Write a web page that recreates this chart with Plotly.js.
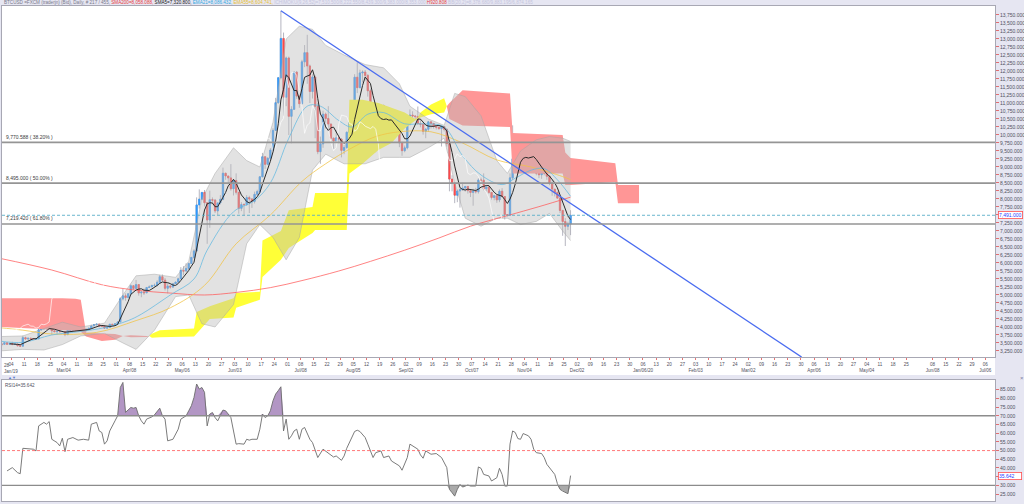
<!DOCTYPE html>
<html>
<head>
<meta charset="utf-8">
<script src="https://cdn.plot.ly/plotly-3.0.1.min.js"></script>
<style>
html,body{margin:0;padding:0;background:#e6e6f2;overflow:hidden;}
#chart{width:1024px;height:504px;}
</style>
</head>
<body>
<div id="chart"></div>
<script>
// ---------------- price data: weekday bars starting 2019-01-28 ----------------
const firstBar = '2019-01-28';
const firstOpen = 3530;
const closeP = [
 3464,3459,3508,3458,3487, 3459,3466,3414,3401,3667, 3625,3648,3631,3611,3630, 3910,3937,3984,3942,3983,
 3882,3854,3861,3854,3859, 3761,3896,3903,3911,3902, 3905,3909,3906,3924,3960, 4032,4071,4087,4029,4023,
 3963,3985,4087,4069,4098, 4158,4879,4973,4922,5036, 5289,5204,5325,5064,5089, 5067,5235,5251,5298,5303,
 5399,5572,5464,5210,5279, 5247,5350,5402,5505,5768, 5746,5829,5982,6175,6378, 7815,7995,8205,7884,7343,
 7978,7964,7627,7877,7990, 8805,8719,8659,8319,8575, 8208,7707,7824,7822,8043, 8000,7927,8145,8231,8693,
 9320,9082,9274,9527,10144, 11011,11790,13017,11182,12407, 10583,10801,11961,11215,10978, 12285,12573,12157,11358,11815,
 10896,9478,9723,10652,10516, 10343,9900,9811,9911,9871, 9519,9607,10085,10400,10519, 11805,11479,11941,11966,11862,
 11382,10895,10052,10311,10374, 10918,10764,10138,10131,10407, 10370,10185,9755,9510,9598, 10346,10623,10594,10575,10353,
 10334,10115,10178,10410,10360, 10276,10241,10199,10266,10181, 9729,8621,8486,8118,8251, 8294,8344,8393,8260,8205,
 8245,8228,8595,8586,8321, 8374,8205,8047,8103,7973, 8243,8078,7514,7493,8660, 9256,9427,9205,9199,9261,
 9413,9320,9360,9267,8804, 8757,8815,8808,8708,8491, 8309,8206,8027,7642,7296, 7146,7218,7491
];
const highP = [
 3570,3480,3520,3520,3500, 3540,3480,3470,3420,3730, 3700,3660,3670,3640,3660, 3960,4060,3990,4000,3990,
 4200,3890,3880,3900,3880, 3880,3910,3920,3930,3980, 3980,3920,3920,3960,3970, 4070,4080,4100,4100,4040,
 4050,3990,4090,4090,4110, 4170,4930,5190,5050,5060, 5330,5290,5470,5330,5110, 5200,5250,5300,5320,5360,
 5460,5630,5640,5530,5370, 5330,5380,5420,5540,5870, 5900,5990,6010,6180,6430, 8050,8300,8220,8280,7900,
 8260,8050,8000,7890,8120, 8980,8820,8700,9090,8590, 8800,8210,7900,7870,8120, 8100,8030,8230,8290,8710,
 9440,9340,9300,9590,10210, 11160,11800,13880,13200,12450, 12450,10900,11990,12000,11400, 12350,12810,13130,12200,11900,
 11860,11000,9950,10760,10700, 10900,10350,9920,10150,9930, 9900,9680,10110,10450,10650, 11900,12270,12040,12020,12030,
 11900,11450,10900,10470,10530, 10950,10950,10780,10230,10440, 10600,10380,10280,9790,9670, 10400,10800,10740,10620,10890,
 10480,10390,10220,10440,10420, 10380,10280,10270,10300,10280, 10190,9800,8740,8510,8300, 8330,8510,8400,8400,8270,
 8320,8350,8650,8670,8800, 8410,8410,8220,8130,8120, 8300,8340,8080,7520,8800, 10300,9530,9420,9350,9290,
 9550,9460,9440,9370,9270, 9100,8880,8850,8810,8750, 8600,8300,8230,8050,7660, 7400,7290,7650
];
const lowP = [
 3440,3400,3450,3440,3450, 3430,3440,3390,3390,3390, 3600,3590,3610,3590,3600, 3620,3890,3920,3920,3930,
 3750,3840,3760,3830,3850, 3710,3750,3860,3890,3870, 3860,3870,3890,3860,3920, 3960,4030,4050,3990,4010,
 3940,3950,3980,4050,4060, 4080,4150,4830,4820,4900, 5000,5160,5180,4980,4930, 5000,5060,5220,5250,5260,
 5270,5390,5420,5140,5050, 5200,5220,5340,5390,5500, 5620,5740,5780,5980,6130, 6350,7700,7960,7770,6600,
 7100,7830,7560,7500,7830, 7960,8600,8450,8260,8110, 8140,7540,7620,7480,7790, 7560,7720,7860,8100,8190,
 8680,8940,9070,9210,9520, 10140,10970,11740,10600,10900, 10000,9740,10790,11130,10850, 10950,12120,11600,11000,11140,
 9900,9400,9100,9600,10200, 10120,9860,9560,9800,9740, 9300,9400,9570,9890,10350, 10500,11310,11460,11640,11700,
 11200,10800,10000,9460,9900, 10060,10620,9940,9810,10090, 10000,10090,9620,9350,9460, 9550,10300,10450,10500,10330,
 10240,10010,9900,10100,10200, 10200,10170,10170,9640,10110, 9640,8240,8240,7870,7900, 7730,8250,8230,8170,8060,
 7790,8170,8170,8470,8270, 8240,8160,7980,7960,7880, 7900,8050,7360,7450,7480, 8600,9080,9060,8940,9070,
 9180,9210,9290,9150,8740, 8650,8630,8740,8600,8430, 8100,8080,8010,7560,6850, 6530,7030,6870
];

// ---------------- indicators ----------------
const sma200Dates = ['2019-01-28','2019-02-25','2019-03-22','2019-04-10','2019-04-29','2019-05-16','2019-06-03','2019-06-20','2019-07-08','2019-07-26','2019-08-13','2019-08-30','2019-09-18','2019-10-04','2019-10-24','2019-11-11','2019-11-27'];
const sma200Vals  = [6150,5780,5320,5150,5060,5000,5080,5230,5450,5750,6050,6400,6780,7150,7480,7760,8058];

const ema55Dates = ['2019-01-28','2019-02-08','2019-02-25','2019-03-20','2019-04-10','2019-04-29','2019-05-16','2019-06-03','2019-06-20','2019-07-08','2019-07-19','2019-08-02','2019-08-15','2019-08-28','2019-09-13','2019-10-01','2019-10-18','2019-11-06','2019-11-22','2019-11-27'];
const ema55Vals  = [3980,3900,3780,3830,4200,4600,5300,6600,7500,8550,9100,9600,9950,10100,10100,9750,9220,9000,8700,8605];

const ema21Dates = ['2019-01-28','2019-02-08','2019-02-25','2019-03-12','2019-03-25','2019-04-05','2019-04-12','2019-04-29','2019-05-10','2019-05-17','2019-05-31','2019-06-12','2019-06-20','2019-07-01','2019-07-10','2019-07-17','2019-07-26','2019-08-02','2019-08-12','2019-08-20','2019-08-30','2019-09-10','2019-09-20','2019-10-01','2019-10-10','2019-10-22','2019-10-29','2019-11-06','2019-11-13','2019-11-20','2019-11-27'];
const ema21Vals  = [3560,3520,3750,3860,3980,4200,4400,5000,5500,6400,7600,7950,8500,9900,10900,10900,10450,10250,10650,10700,10350,10350,10250,9350,8750,8450,8650,8900,8950,8600,8086];

const bbDates = ['2019-01-28','2019-02-08','2019-02-20','2019-03-01','2019-03-12','2019-03-25','2019-04-03','2019-04-10','2019-04-19','2019-05-01','2019-05-08','2019-05-15','2019-05-22','2019-05-31','2019-06-07','2019-06-14','2019-06-21','2019-06-28','2019-07-05','2019-07-12','2019-07-19','2019-07-30','2019-08-09','2019-08-20','2019-08-28','2019-09-03','2019-09-12','2019-09-20','2019-09-26','2019-10-02','2019-10-10','2019-10-18','2019-10-24','2019-10-31','2019-11-08','2019-11-15','2019-11-22','2019-11-27'];
const bbUpper = [3700,3720,3950,4150,4000,4120,5000,5600,5650,5550,6050,8000,8800,9600,9200,9000,10400,13000,13400,13300,12800,12500,12200,12100,11600,10900,10500,10300,11300,11200,10600,9200,8800,9500,9850,9950,9900,9800];
const bbLower = [3250,3300,3280,3450,3720,3800,3500,3300,3900,4950,5000,4100,4000,4700,6600,7200,6800,6100,6800,8900,9400,9100,9100,9300,9300,9300,9600,9900,8500,7400,7150,7400,7400,7200,7300,7550,7000,6700];

const cloudDates = ['2019-01-28','2019-02-15','2019-03-01','2019-03-08','2019-03-12','2019-03-14','2019-03-22','2019-03-29','2019-04-03','2019-04-08','2019-04-16','2019-04-17','2019-04-18','2019-04-23','2019-05-10','2019-05-13','2019-05-20','2019-05-31','2019-06-03','2019-06-14','2019-06-17','2019-06-26','2019-07-01','2019-07-12','2019-07-15','2019-07-31','2019-08-01','2019-08-08','2019-08-16','2019-08-23','2019-08-30','2019-09-05','2019-09-06','2019-09-09','2019-09-13','2019-09-20','2019-09-23','2019-09-24','2019-10-01','2019-10-25','2019-10-28','2019-11-22','2019-11-25','2019-11-27','2019-12-20','2019-12-23','2020-01-02'];
const spanA = [4000,3950,3900,3880,3850,3700,3560,3600,3720,3680,3690,3720,3790,3900,3950,4470,4650,4900,5060,5100,6700,7000,7650,7750,8190,8190,11100,11100,11000,10850,10700,10500,10550,10700,10950,11150,10900,10500,10300,10250,8800,8800,8440,8440,8530,7870,7870];
const spanB = [4900,4900,4900,4880,4850,3830,3800,3780,3720,3740,3720,3720,3660,3680,3700,3810,4250,4300,4600,4850,5560,6100,6470,6940,7030,7030,8800,9100,9530,9750,10200,10450,10500,10550,10650,10700,10900,11000,11400,11300,10060,10000,9450,9280,9120,8440,8440];

const fibLevels = [9770.588, 8495.000, 7219.420];
const fibLabels = ['9,770.588 ( 38.20% )','8,495.000 ( 50.00% )','7,219.420 ( 61.80% )'];
const lastPrice = 7491.000;
const trendDates = ['2019-06-26 12:00','2020-03-30 06:00'];
const trendVals = [13884, 3060];

// RSI(14): bar index -> value
const rsiIdx = [3,5,7,8,9,13,14,15,17,18,19,20,22,23,24,25,26,28,30,32,34,35,37,38,39,40,41,42,44,45,46,47,48,50,51,52,53,54,55,56,58,59,61,62,63,64,66,67,68,69,71,72,73,74,75,76,77,78,79,80,81,82,83,85,86,87,88,90,91,93,94,95,96,98,99,100,101,102,103,104,105,106,107,108,109,110,111,112,113,114,115,116,117,118,119,121,123,124,126,127,128,130,131,132,135,136,137,139,140,142,143,145,146,148,149,152,153,155,156,157,159,160,161,162,164,166,168,170,171,172,173,174,175,176,178,179,181,182,183,184,186,187,189,190,191,192,193,194,195,196,197,198,199,201,202,203,204,206,207,208,210,211,212,213,214,216,217];
const rsiVal = [38.3,40.2,37.3,36.7,51.3,50.8,49.8,64.2,66.2,65.2,66.7,56.5,54.6,52.7,57.1,49.4,56.5,57.5,56,56.5,56,65.2,66.2,61.3,60.4,53.7,55.6,61.3,67.1,70,86.3,89.2,72,74.8,74.4,74.8,70,67.1,65.2,68.1,69.4,70.6,74.4,70,68.1,55.6,56.5,59.4,62.3,68.1,70,72.9,75.8,80.6,88.3,85.4,86.3,83.5,64.2,71,71.9,69,67.1,73.3,72.9,71,69,53.7,54,53.7,56.5,56,56.5,56.5,62.3,71,69,70,72.9,78.7,82.5,84.5,86.7,61.3,68.1,56.5,58.5,61.3,62.3,56.5,62.3,63.3,59.4,56.5,54.6,46,50.8,49.8,47.5,46.3,46.9,44.4,46.9,51.3,61,61.7,61,57.5,53.7,46,48.8,49.8,46,46.9,44,41.2,38.7,46,53.7,52.7,50.8,47.5,45.6,49.8,47.9,48.3,46,40.2,27.7,25.8,23.8,27.7,30.6,29,30.2,29.6,29.6,40.6,39.8,36.3,35.4,32.5,34.4,39.8,36.3,29.6,29.6,53.7,61.3,60.4,56.9,56.5,59.8,58.5,56.5,50.8,48.8,48.3,46,42.1,38.3,36.3,31,27.7,26.7,25.2,35.6];
const rsiLast = 35.642;
const rsiLevels = [70, 50, 30];

// axis labels
const firstTickLabel = '28<br>Jan/19';
const monthLabels = {'2019-03-04':'Mar/04','2019-04-08':'Apr/08','2019-05-06':'May/06','2019-06-03':'Jun/03','2019-07-08':'Jul/08','2019-08-05':'Aug/05','2019-09-02':'Sep/02','2019-10-07':'Oct/07','2019-11-04':'Nov/04','2019-12-02':'Dec/02','2020-01-06':'Jan/06/20','2020-02-03':'Feb/03','2020-03-02':'Mar/02','2020-04-06':'Apr/06','2020-05-04':'May/04','2020-06-08':'Jun/08','2020-07-06':'Jul/06'};
const skippedTicks = ['2020-06-01'];

// ---------------- helpers ----------------
function fmt(d){return d.toISOString().slice(0,10);}
function weekdays(start, n){
  const out=[]; let d=new Date(start+'T00:00:00Z');
  while(out.length<n){const w=d.getUTCDay(); if(w!==0&&w!==6) out.push(fmt(d)+' 12:00'); d=new Date(d.getTime()+86400000);}
  return out;
}
const mid = a => a.map(s => s.length===10 ? s+' 12:00' : s);
const barDates = weekdays(firstBar, closeP.length);
const openP = closeP.map((c,i)=> i===0 ? firstOpen : closeP[i-1]);
const bodyHi = closeP.map((c,i)=>Math.max(c,openP[i]));
const bodyLo = closeP.map((c,i)=>Math.min(c,openP[i]));

const sma5x=[], sma5y=[];
for(let i=4;i<closeP.length;i++){let s=0;for(let k=i-4;k<=i;k++)s+=closeP[k]; sma5x.push(barDates[i]); sma5y.push(s/5);}
const chikX=[], chikY=[];
for(let i=26;i<closeP.length;i++){chikX.push(barDates[i-26]); chikY.push(closeP[i]);}

const traces=[];
// Ichimoku cloud segments
(function(){
  const cd = mid(cloudDates);
  let seg=[0];
  const flush = (idx)=>{
    if(idx.length<2) return;
    let sgn=0; for(const j of idx){const d=spanA[j]-spanB[j]; if(d!==0){sgn=d>0?1:-1;break;}}
    const xs=[],ys=[];
    idx.forEach(j=>{xs.push(cd[j]);ys.push(spanA[j]);});
    idx.slice().reverse().forEach(j=>{xs.push(cd[j]);ys.push(spanB[j]);});
    traces.push({type:'scatter',x:xs,y:ys,mode:'lines',fill:'toself',
      fillcolor: sgn>=0 ? 'rgb(255,255,55)' : 'rgb(255,150,150)',
      line:{width:0},hoverinfo:'skip',xaxis:'x',yaxis:'y'});
  };
  for(let i=1;i<cloudDates.length;i++){
    seg.push(i);
    if(spanA[i]===spanB[i]){flush(seg); seg=[i];}
  }
  flush(seg);
})();
// Bollinger band
traces.push({type:'scatter',x:mid(bbDates),y:bbLower,mode:'lines',line:{width:0.8,color:'rgba(165,165,165,0.6)'},hoverinfo:'skip'});
traces.push({type:'scatter',x:mid(bbDates),y:bbUpper,mode:'lines',fill:'tonexty',fillcolor:'rgba(185,185,185,0.42)',line:{width:0.8,color:'rgba(165,165,165,0.6)'},hoverinfo:'skip'});
// moving averages
traces.push({type:'scatter',x:mid(sma200Dates),y:sma200Vals,mode:'lines',line:{width:1,color:'rgba(255,90,90,0.75)',shape:'spline'},hoverinfo:'skip'});
traces.push({type:'scatter',x:mid(ema55Dates),y:ema55Vals,mode:'lines',line:{width:0.9,color:'rgba(240,195,70,0.85)',shape:'spline'},hoverinfo:'skip'});
traces.push({type:'scatter',x:mid(ema21Dates),y:ema21Vals,mode:'lines',line:{width:0.9,color:'rgba(100,185,225,0.85)',shape:'spline'},hoverinfo:'skip'});
traces.push({type:'scatter',x:chikX,y:chikY,mode:'lines',line:{width:0.9,color:'rgba(255,255,255,0.75)'},hoverinfo:'skip'});
// candles: wicks then bodies
traces.push({type:'candlestick',x:barDates,open:openP,high:highP,low:lowP,close:closeP,
  increasing:{line:{color:'#a2a2b0',width:0.8},fillcolor:'#a2a2b0'},
  decreasing:{line:{color:'#a2a2b0',width:0.8},fillcolor:'#a2a2b0'},hoverinfo:'skip',xaxis:'x',yaxis:'y'});
traces.push({type:'candlestick',x:barDates,open:openP,high:bodyHi,low:bodyLo,close:closeP,
  increasing:{line:{color:'#2e9bff',width:0.6},fillcolor:'#2e9bff'},
  decreasing:{line:{color:'#ff4a4a',width:0.6},fillcolor:'#ff4a4a'},hoverinfo:'skip',xaxis:'x',yaxis:'y'});
traces.push({type:'scatter',x:sma5x,y:sma5y,mode:'lines',line:{width:1,color:'#2a2a2a'},hoverinfo:'skip'});
// trendline
traces.push({type:'scatter',x:trendDates,y:trendVals,mode:'lines',line:{width:1.3,color:'#4a6cf0'},hoverinfo:'skip'});

// RSI panel
const rsiX = rsiIdx.map(i=>barDates[i]);
const base70 = rsiX.map(()=>rsiLevels[0]);
const base30 = rsiX.map(()=>rsiLevels[2]);
traces.push({type:'scatter',x:rsiX,y:base70,mode:'lines',line:{width:0},xaxis:'x2',yaxis:'y2',hoverinfo:'skip'});
traces.push({type:'scatter',x:rsiX,y:rsiVal.map(v=>Math.max(v,rsiLevels[0])),mode:'lines',line:{width:0},fill:'tonexty',fillcolor:'rgb(178,150,196)',xaxis:'x2',yaxis:'y2',hoverinfo:'skip'});
traces.push({type:'scatter',x:rsiX,y:base30,mode:'lines',line:{width:0},xaxis:'x2',yaxis:'y2',hoverinfo:'skip'});
traces.push({type:'scatter',x:rsiX,y:rsiVal.map(v=>Math.min(v,rsiLevels[2])),mode:'lines',line:{width:0},fill:'tonexty',fillcolor:'rgb(170,170,170)',xaxis:'x2',yaxis:'y2',hoverinfo:'skip'});
traces.push({type:'scatter',x:rsiX,y:rsiVal,mode:'lines',line:{width:0.9,color:'#6c6c6c'},xaxis:'x2',yaxis:'y2',hoverinfo:'skip'});

// ---------------- layout ----------------
const tickvals=[], ticktext=[];
for(let d=new Date('2019-01-28T00:00:00Z'); d<=new Date('2020-07-06T00:00:00Z'); d=new Date(d.getTime()+7*86400000)){
  const s=fmt(d); if(skippedTicks.includes(s)) continue;
  tickvals.push(s); ticktext.push(s.slice(8,10)+(monthLabels[s]?'<br>'+monthLabels[s]:''));
}
const yTicks=[]; for(let v=3250; v<=13750; v+=250) yTicks.push(v);
const rTicks=[]; for(let v=25; v<=85; v+=5) rTicks.push(v);

const PH=495, topM=6;
const py = p => (501-p)/PH;  // pixel row -> paper y
const xRange=['2019-01-29 14:00','2020-07-09 16:30'];
const rb=[{bounds:['sat','mon']}];
const FONT='Liberation Sans, Arial, sans-serif';
const lineC='#a8a8b4';

const shapes=[
  {type:'rect',xref:'paper',yref:'paper',x0:0,x1:1,y0:py(375),y1:py(357),fillcolor:'#ffffff',line:{width:0},layer:'below'}
];
fibLevels.forEach(v=>shapes.push({type:'line',xref:'paper',yref:'y',x0:0,x1:1,y0:v,y1:v,line:{color:'#959595',width:1.6}}));
shapes.push({type:'line',xref:'paper',yref:'y',x0:0,x1:1,y0:lastPrice,y1:lastPrice,line:{color:'#5aaec8',width:0.9,dash:'3px,2px'}});
shapes.push({type:'line',xref:'paper',yref:'y2',x0:0,x1:1,y0:rsiLevels[0],y1:rsiLevels[0],line:{color:'#8c8c8c',width:1.4}});
shapes.push({type:'line',xref:'paper',yref:'y2',x0:0,x1:1,y0:rsiLevels[1],y1:rsiLevels[1],line:{color:'#ff6a6a',width:0.9,dash:'3px,2px'}});
shapes.push({type:'line',xref:'paper',yref:'y2',x0:0,x1:1,y0:rsiLevels[2],y1:rsiLevels[2],line:{color:'#8c8c8c',width:1.4}});

const header = '<span style="color:#7a7a8a">BTCUSD =FXCM (traderjn) (Bid), Daily, # 217 / 455, </span>'+
 '<span style="color:#e84040">SMA200=8,058.088, </span>'+
 '<span style="color:#202020">SMA5=7,320.800, </span>'+
 '<span style="color:#30a8e0">EMA21=8,086.432, </span>'+
 '<span style="color:#e6c030">EMA55=8,604.741, </span>'+
 '<span style="color:#c4c4dc">ICHIMOKU(9,26,52)=7,510.500/8,222.550/8,439.300/9,383.000/8,353.000 </span>'+
 '<span style="color:#e84040">H920.808 </span>'+
 '<span style="color:#c4c4dc">BB(20,2)=8,378.680/9,883.195/6,874.165</span>';

const annotations=[
  {xref:'paper',yref:'paper',x:0,y:py(2.5),xanchor:'left',yanchor:'middle',text:header,showarrow:false,font:{size:4.6,family:FONT}},
  {xref:'paper',yref:'y',x:1.003,y:lastPrice,xanchor:'left',yanchor:'middle',text:'7,491.000',showarrow:false,
   font:{size:5,color:'#2a3cff',family:FONT},bgcolor:'#ffffff',bordercolor:'#ff5050',borderwidth:0.8,borderpad:0.3},
  {xref:'paper',yref:'y2',x:1.003,y:rsiLast,xanchor:'left',yanchor:'middle',text:'35.642',showarrow:false,
   font:{size:5,color:'#2a3cff',family:FONT},bgcolor:'#ffffff',bordercolor:'#ff5050',borderwidth:0.8,borderpad:0.3,width:22,align:'left'},
  {xref:'paper',yref:'paper',x:0.001,y:py(380.5),xanchor:'left',yanchor:'top',text:'RSI14=35.642',showarrow:false,font:{size:4.6,color:'#505060',family:FONT}},
  {xref:'paper',yref:'paper',x:0.004,y:py(377.5),xanchor:'left',yanchor:'middle',text:'▲▼',showarrow:false,font:{size:4,color:'#5a7ad0',family:FONT}},
  {xref:'paper',yref:'paper',x:1.023,y:py(377.5),xanchor:'left',yanchor:'middle',text:'×',showarrow:false,font:{size:6,color:'#8080a0',family:FONT}},
  {xref:'paper',yref:'paper',x:0,y:py(360.5),xanchor:'left',yanchor:'top',text:firstTickLabel,showarrow:false,align:'left',font:{size:4.6,color:'#505060',family:FONT}}
];
fibLevels.forEach((v,i)=>annotations.push({xref:'paper',yref:'y',x:0.002,y:v,xanchor:'left',yanchor:'bottom',yshift:0.5,text:fibLabels[i],showarrow:false,font:{size:5,color:'#3a3a3a',family:FONT}}));

const layout={
  width:1024,height:504,
  margin:{l:2,r:29,t:topM,b:3},
  paper_bgcolor:'#e6e6f2',plot_bgcolor:'#ffffff',
  showlegend:false,hovermode:false,
  font:{family:FONT,size:5,color:'#555560'},
  xaxis:{type:'date',anchor:'y',domain:[0,1],range:xRange,rangebreaks:rb,rangeslider:{visible:false},
    tickmode:'array',tickvals:tickvals,ticktext:ticktext,tickangle:0,tickfont:{size:4.6,color:'#505060',family:FONT},
    ticks:'outside',ticklen:2,tickcolor:'#e05050',tickwidth:0.8,showgrid:false,zeroline:false,
    showline:true,linecolor:lineC,linewidth:1,mirror:true,fixedrange:true},
  xaxis2:{type:'date',anchor:'y2',matches:'x',domain:[0,1],range:xRange,rangebreaks:rb,rangeslider:{visible:false},
    showticklabels:false,ticks:'',showgrid:false,zeroline:false,showline:true,linecolor:lineC,linewidth:1,mirror:true,fixedrange:true},
  yaxis:{domain:[py(357),1],range:[3062,14031],side:'right',tickmode:'array',tickvals:yTicks,tickformat:',.3f',
    tickfont:{size:5,color:'#505060',family:FONT},ticks:'outside',ticklen:3,tickcolor:'#e05050',tickwidth:0.8,
    showgrid:false,zeroline:false,showline:true,linecolor:lineC,linewidth:1,mirror:true,fixedrange:true},
  yaxis2:{domain:[0,py(380)],range:[21,90.6],side:'right',tickmode:'array',tickvals:rTicks,tickformat:'.3f',
    tickfont:{size:5,color:'#505060',family:FONT},ticks:'outside',ticklen:3,tickcolor:'#e05050',tickwidth:0.8,
    showgrid:false,zeroline:false,showline:true,linecolor:lineC,linewidth:1,mirror:true,fixedrange:true},
  shapes:shapes,annotations:annotations
};
traces.forEach(t=>{t.showlegend=false;});
Plotly.newPlot('chart',traces,layout,{staticPlot:true,displayModeBar:false});
</script>
</body>
</html>
